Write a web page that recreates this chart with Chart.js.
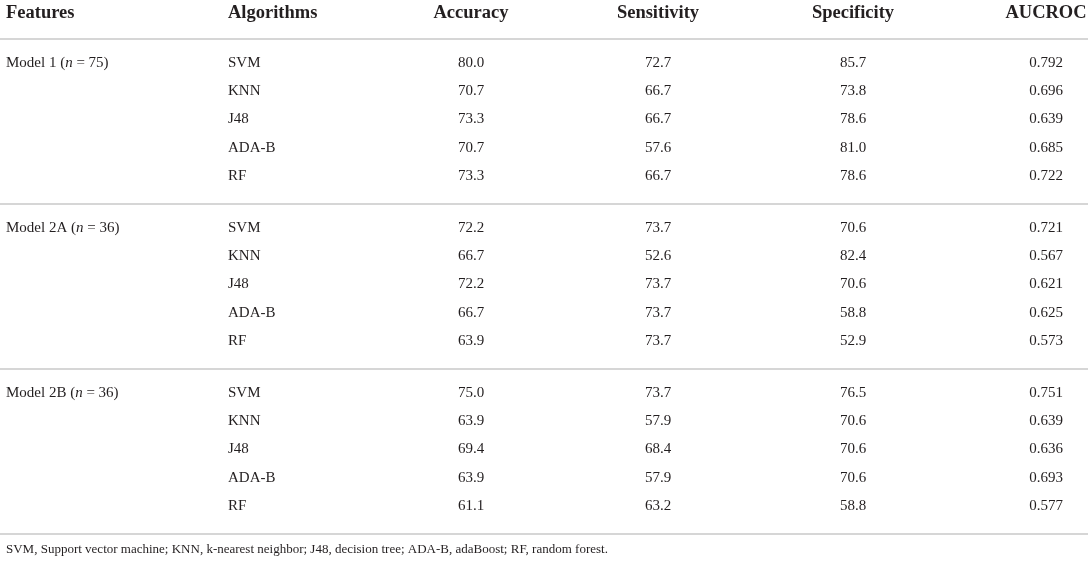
<!DOCTYPE html>
<html lang="en">
<head>
  <meta charset="UTF-8">
  <title>Model performance table</title>
  <script src="https://cdn.jsdelivr.net/npm/chart.js"></script>
  <style>
    body {
      margin: 0;
      padding: 0;
      background: #ffffff;
    }
    .wrap {
      width: 1089px;
      height: 562px;
      position: relative;
    }
  </style>
</head>
<body>
  <div class="wrap">
    <canvas id="tableChart"></canvas>
  </div>

  <script>
    // Table data
    const headers = ["Features", "Algorithms", "Accuracy", "Sensitivity", "Specificity", "AUCROC"];
    const featureNames = ["Model 1", "Model 2A", "Model 2B"];
    const featureN = [75, 36, 36];
    const algorithms = ["SVM", "KNN", "J48", "ADA-B", "RF"];
    const accuracy = [80.0, 70.7, 73.3, 70.7, 73.3, 72.2, 66.7, 72.2, 66.7, 63.9, 75.0, 63.9, 69.4, 63.9, 61.1];
    const sensitivity = [72.7, 66.7, 66.7, 57.6, 66.7, 73.7, 52.6, 73.7, 73.7, 73.7, 73.7, 57.9, 68.4, 57.9, 63.2];
    const specificity = [85.7, 73.8, 78.6, 81.0, 78.6, 70.6, 82.4, 70.6, 58.8, 52.9, 76.5, 70.6, 70.6, 70.6, 58.8];
    const aucroc = [0.792, 0.696, 0.639, 0.685, 0.722, 0.721, 0.567, 0.621, 0.625, 0.573, 0.751, 0.639, 0.636, 0.693, 0.577];
    const footnote = "SVM, Support vector machine; KNN, k-nearest neighbor; J48, decision tree; ADA-B, adaBoost; RF, random forest.";

    // Layout (scale units = px of the 1089x562 page)
    const colX = [6, 228, 471, 658, 853, 1046];
    const colAlign = ["left", "left", "center", "center", "center", "center"];
    const headerY = 13;
    const firstRowY = 63;
    const rowStep = 28.2;
    const sectionStep = 165;
    const ruleYs = [39, 204, 369, 534];
    const footY = 550;
    const textColor = "#231f20";
    const ruleColor = "#c9c9c9";
    const serif = "'Liberation Serif', 'DejaVu Serif', serif";

    const rowY = i => firstRowY + Math.floor(i / algorithms.length) * sectionStep + (i % algorithms.length) * rowStep;

    function textSet(x, ys, texts, align, font) {
      return {
        type: "scatter",
        data: ys.map((y, i) => ({ x: x, y: y, text: texts[i] })),
        pointRadius: 0,
        pointHoverRadius: 0,
        cellAlign: align,
        cellFont: font
      };
    }

    const bodyFont = "15px " + serif;
    const headFont = "bold 18.5px " + serif;
    const rows = accuracy.map((v, i) => rowY(i));

    const datasets = [];

    // horizontal rules
    ruleYs.forEach(y => {
      datasets.push({
        type: "line",
        data: [{ x: 0, y: y }, { x: 1088, y: y }],
        borderColor: ruleColor,
        borderWidth: 1.5,
        pointRadius: 0,
        fill: false
      });
    });

    // header
    headers.forEach((h, c) => {
      datasets.push(textSet(colX[c], [headerY], [h], colAlign[c], headFont));
    });

    // features column (with italic n)
    datasets.push(textSet(colX[0],
      featureNames.map((f, k) => rowY(k * algorithms.length)),
      featureNames.map((f, k) => [
        { t: f + " (", it: false },
        { t: "n", it: true },
        { t: " = " + featureN[k] + ")", it: false }
      ]),
      "left", bodyFont));

    datasets.push(textSet(colX[1], rows, accuracy.map((v, i) => algorithms[i % algorithms.length]), "left", bodyFont));
    datasets.push(textSet(colX[2], rows, accuracy.map(v => v.toFixed(1)), "center", bodyFont));
    datasets.push(textSet(colX[3], rows, sensitivity.map(v => v.toFixed(1)), "center", bodyFont));
    datasets.push(textSet(colX[4], rows, specificity.map(v => v.toFixed(1)), "center", bodyFont));
    datasets.push(textSet(colX[5], rows, aucroc.map(v => v.toFixed(3)), "center", bodyFont));

    // footnote
    datasets.push(textSet(colX[0], [footY], [footnote], "left", "13px " + serif));

    // draws the cell text at each point position
    const cellTextPlugin = {
      id: "cellText",
      afterDatasetsDraw(chart) {
        const ctx = chart.ctx;
        ctx.save();
        ctx.fillStyle = textColor;
        ctx.textBaseline = "middle";
        chart.data.datasets.forEach((ds, di) => {
          if (!ds.cellFont) return;
          const meta = chart.getDatasetMeta(di);
          meta.data.forEach((el, i) => {
            const text = ds.data[i].text;
            if (Array.isArray(text)) {
              let x = el.x;
              text.forEach(part => {
                ctx.font = part.it ? "italic " + ds.cellFont : ds.cellFont;
                ctx.textAlign = "left";
                ctx.fillText(part.t, x, el.y);
                x += ctx.measureText(part.t).width;
              });
            } else {
              ctx.font = ds.cellFont;
              ctx.textAlign = ds.cellAlign;
              ctx.fillText(text, el.x, el.y);
            }
          });
        });
        ctx.restore();
      }
    };

    new Chart(document.getElementById("tableChart"), {
      type: "scatter",
      data: { datasets: datasets },
      options: {
        responsive: true,
        maintainAspectRatio: false,
        animation: false,
        layout: { padding: 0 },
        plugins: {
          legend: { display: false },
          tooltip: { enabled: false }
        },
        scales: {
          x: { type: "linear", min: 0, max: 1089, display: false },
          y: { type: "linear", min: 0, max: 562, reverse: true, display: false }
        }
      },
      plugins: [cellTextPlugin]
    });
  </script>
</body>
</html>
